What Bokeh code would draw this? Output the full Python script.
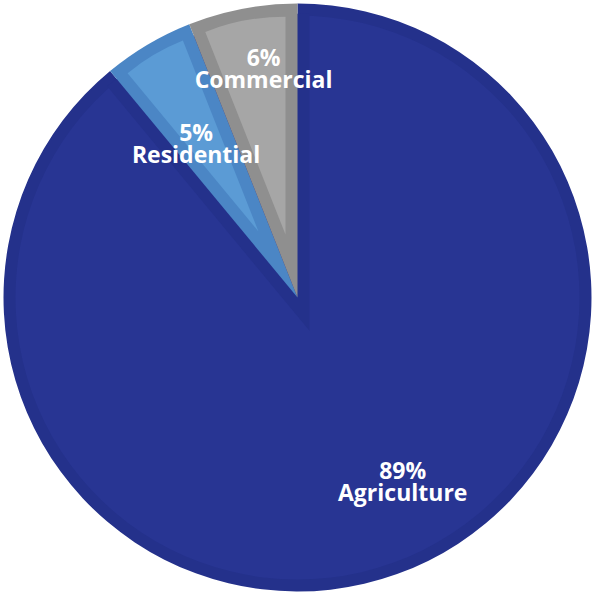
import math
import numpy as np
from bokeh.plotting import figure
from bokeh.models import Range1d, ColumnDataSource
from bokeh.embed import file_html
from bokeh.resources import INLINE
from bokeh.core.properties import value

# ---- data ----
categories = ["Agriculture", "Residential", "Commercial"]
shares = [89, 5, 6]
pct_labels = ["89%", "5%", "6%"]

# ---- style ----
fill_colors = ["#283593", "#5b9bd5", "#a6a6a6"]
edge_colors = ["#24318b", "#4b86c5", "#8f8f8f"]
label_radius = [0.72, 0.63, 0.79]      # fraction of R
label_nudge = [10.0, 2.6, -2.4]        # degrees
R = 294.0
BAND = 12.0

# angles (clockwise from 12 o'clock)
tot = float(sum(shares))
cum = np.concatenate([[0.0], np.cumsum(shares)]) / tot
theta_a = np.radians(90.0 - cum[:-1] * 360.0)   # slice start (clockwise)
theta_b = np.radians(90.0 - cum[1:] * 360.0)    # slice end
start = theta_b
end = theta_a
mid = (start + end) / 2.0
half = (end - start) / 2.0

p = figure(width=593, height=593, output_backend="svg", toolbar_location=None,
           x_range=Range1d(-297, 296), y_range=Range1d(-296, 297),
           min_border=0)
p.axis.visible = False
p.grid.visible = False
p.outline_line_color = None
p.background_fill_color = None
p.border_fill_color = None

# Agriculture (index 0): dark band then inner fill
p.wedge(x=[0], y=[0], radius=R, start_angle=[start[0]], end_angle=[end[0]],
        fill_color=edge_colors[0], line_color=None)
p.wedge(x=[0], y=[0], radius=R - BAND, start_angle=[start[0]], end_angle=[end[0]],
        fill_color=fill_colors[0], line_color=None)
# band along agriculture's radial edges: expanded complement wedge in dark
g_start = min(start[1:])
g_end = max(end[1:])
g_mid = (g_start + g_end) / 2
g_half = (g_end - g_start) / 2
sg = BAND / math.sin(g_half)
p.wedge(x=[-sg * math.cos(g_mid)], y=[-sg * math.sin(g_mid)], radius=R - BAND + sg,
        start_angle=[g_start], end_angle=[g_end],
        fill_color=edge_colors[0], line_color=None)

# small slices
small = list(range(1, len(shares)))
outer_src = ColumnDataSource(dict(
    start=[start[i] for i in small], end=[end[i] for i in small],
    color=[edge_colors[i] for i in small]))
p.wedge(x=0, y=0, radius=R, start_angle="start", end_angle="end",
        fill_color="color", line_color=None, source=outer_src)
s_shift = [BAND / math.sin(half[i]) for i in small]
inner_src = ColumnDataSource(dict(
    x=[s * math.cos(mid[i]) for s, i in zip(s_shift, small)],
    y=[s * math.sin(mid[i]) for s, i in zip(s_shift, small)],
    r=[R - BAND - s for s in s_shift],
    start=[start[i] for i in small], end=[end[i] for i in small],
    color=[fill_colors[i] for i in small]))
p.wedge(x="x", y="y", radius="r", start_angle="start", end_angle="end",
        fill_color="color", line_color=None, source=inner_src)

# labels
la = [mid[i] + math.radians(label_nudge[i]) for i in range(len(shares))]
lsrc = ColumnDataSource(dict(
    x=[label_radius[i] * R * math.cos(la[i]) for i in range(len(shares))],
    y=[label_radius[i] * R * math.sin(la[i]) for i in range(len(shares))],
    pct=pct_labels, name=categories))
common = dict(text_font=value("Open Sans"), text_font_style="bold",
              text_font_size="23px", text_color="white",
              text_align="center", text_baseline="middle", source=lsrc)
p.text(x="x", y="y", text="pct", y_offset=-11, **common)
p.text(x="x", y="y", text="name", y_offset=11, **common)

open("out.html", "w").write(file_html(p, INLINE))
